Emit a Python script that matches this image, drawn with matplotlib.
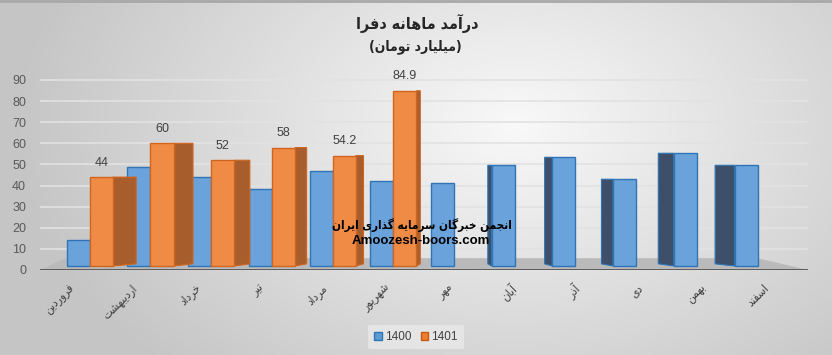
import numpy as np
import matplotlib
matplotlib.use("Agg")
import matplotlib.pyplot as plt
from matplotlib.patches import Polygon, Patch

# ---------------- data ----------------
months = ["فروردین", "اردیبهشت", "خرداد", "تیر", "مرداد", "شهریور",
          "مهر", "آبان", "آذر", "دی", "بهمن", "اسفند"]
series_names = ["1400", "1401"]
vals_1400 = [14.2, 48.6, 44.0, 38.4, 46.8, 42.2, 41.2, 49.6, 53.4, 43.0, 55.3, 49.6]
vals_1401 = [44, 60, 52, 58, 54.2, 84.9]
labels_1401 = ["44", "60", "52", "58", "54.2", "84.9"]
yticks = [0, 10, 20, 30, 40, 50, 60, 70, 80, 90]
title = "درآمد ماهانه دفرا"
subtitle = "(میلیارد تومان)"
watermark_fa = "انجمن خبرگان سرمایه گذاری ایران"
watermark_en = "Amoozesh-boors.com"

# ------------- minimal Arabic/Persian shaping -------------
FORMS = {
    '\u0627': ('\uFE8D', '\uFE8E', None, None),
    '\u0622': ('\uFE81', '\uFE82', None, None),
    '\u0628': ('\uFE8F', '\uFE90', '\uFE91', '\uFE92'),
    '\u062A': ('\uFE95', '\uFE96', '\uFE97', '\uFE98'),
    '\u062C': ('\uFE9D', '\uFE9E', '\uFE9F', '\uFEA0'),
    '\u062E': ('\uFEA5', '\uFEA6', '\uFEA7', '\uFEA8'),
    '\u062F': ('\uFEA9', '\uFEAA', None, None),
    '\u0630': ('\uFEAB', '\uFEAC', None, None),
    '\u0631': ('\uFEAD', '\uFEAE', None, None),
    '\u0633': ('\uFEB1', '\uFEB2', '\uFEB3', '\uFEB4'),
    '\u0634': ('\uFEB5', '\uFEB6', '\uFEB7', '\uFEB8'),
    '\u0641': ('\uFED1', '\uFED2', '\uFED3', '\uFED4'),
    '\u0644': ('\uFEDD', '\uFEDE', '\uFEDF', '\uFEE0'),
    '\u0645': ('\uFEE1', '\uFEE2', '\uFEE3', '\uFEE4'),
    '\u0646': ('\uFEE5', '\uFEE6', '\uFEE7', '\uFEE8'),
    '\u0647': ('\uFEE9', '\uFEEA', '\uFEEB', '\uFEEC'),
    '\u0648': ('\uFEED', '\uFEEE', None, None),
    '\u06CC': ('\uFBFC', '\uFBFD', '\uFBFE', '\uFBFF'),
    '\u06AF': ('\uFB92', '\uFB93', '\uFB94', '\uFB95'),
}


def shape(text):
    out = []
    n = len(text)
    for k, ch in enumerate(text):
        f = FORMS.get(ch)
        if f is None:
            out.append(ch)
            continue
        prev = text[k - 1] if k > 0 else None
        nxt = text[k + 1] if k < n - 1 else None
        jp = prev in FORMS and FORMS[prev][2] is not None
        jn = f[2] is not None and nxt in FORMS
        if jp and jn:
            out.append(f[3])
        elif jp:
            out.append(f[1])
        elif jn:
            out.append(f[2])
        else:
            out.append(f[0])
    mirror = {'(': ')', ')': '('}
    return ''.join(mirror.get(c, c) for c in reversed(out))


plt.rcParams['font.family'] = ['DejaVu Sans']

W, H = 832, 355
fig = plt.figure(figsize=(W / 100, H / 100), dpi=100)

# background gradient
bg = fig.add_axes([0, 0, 1, 1], zorder=-5)
yy, xx = np.mgrid[0:1:200j, 0:1:400j]
d = np.sqrt(((xx - 0.62) / 0.6) ** 2 + ((yy - 0.35) / 0.95) ** 2)
c = 0.975 - 0.2 * np.clip(d, 0, 1)
bg.imshow(np.dstack([c, c, c]), extent=[0, 1, 0, 1], aspect='auto', origin='upper')
bg.set_xlim(0, 1)
bg.set_ylim(0, 1)
bg.axis('off')
bg.plot([0, 1], [0.997, 0.997], color='#a8a8a8', lw=2)

# main axes
px_per_unit = 190 / 90.0
y_top = 95
bottom_frac = (H - 270) / H
top_frac = 1 - (270 - y_top * px_per_unit) / H
ax = fig.add_axes([40 / W, bottom_frac, (808 - 40) / W, top_frac - bottom_frac])
ax.set_facecolor('none')
ax.set_xlim(-0.82, 11.83)
ax.set_ylim(0, y_top)
for s in ax.spines.values():
    s.set_visible(False)

ax.set_yticks(yticks)
ax.set_yticklabels([str(t) for t in yticks], fontfamily='Liberation Sans',
                   fontsize=9, color='#595959')
ax.tick_params(axis='y', length=0, pad=10)
ax.set_xticks([])
for t in yticks[1:]:
    ax.axhline(t, color='#e2e2e2', lw=1.2, zorder=0)

# floor
floor = Polygon([(-0.82, 0), (11.83, 0), (11.0, 5.6), (-0.4, 5.6)],
                closed=True, facecolor='#bababa', edgecolor='none', zorder=1)
ax.add_patch(floor)
ax.axhline(0, color='#404040', lw=1.8, zorder=2)

x = np.arange(len(months))
w = 0.38
base = 1.9
per = 0.064

blue_front = '#6AA3DC'
blue_edge = '#2F75B5'
blue_side = '#3E5069'
orange_front = '#F08B45'
orange_edge = '#D0651F'
orange_side = '#A85E2C'

# blue bars
for i, v in enumerate(vals_1400):
    s = (6 - i) * per
    if s < 0:  # left side face visible
        xl = x[i] - w
        ax.add_patch(Polygon([(xl, base), (xl + s, base + 1.0), (xl + s, v), (xl, v)],
                             closed=True, facecolor=blue_side, edgecolor=blue_edge,
                             lw=0.8, zorder=3))
    elif s > 0:
        xr = x[i]
        ax.add_patch(Polygon([(xr, base), (xr + s, base + 1.0), (xr + s, v), (xr, v)],
                             closed=True, facecolor='#4a7fb5', edgecolor=blue_edge,
                             lw=0.8, zorder=3))
ax.bar(x - w / 2, np.array(vals_1400) - base, bottom=base, width=w,
       color=blue_front, edgecolor=blue_edge, linewidth=1.0, zorder=4)

# orange bars
x2 = x[:len(vals_1401)]
for i, v in enumerate(vals_1401):
    s = (6 - i) * per
    xr = x2[i] + w
    ax.add_patch(Polygon([(xr, base), (xr + s, base + 1.0), (xr + s, v), (xr, v)],
                         closed=True, facecolor=orange_side, edgecolor=orange_edge,
                         lw=0.8, zorder=5))
bars2 = ax.bar(x2 + w / 2, np.array(vals_1401) - base, bottom=base, width=w,
               color=orange_front, edgecolor=orange_edge, linewidth=1.0, zorder=6)
for i, v in enumerate(vals_1401):
    ax.annotate(labels_1401[i], (x2[i] + w / 2, v), xytext=(0, 6),
                textcoords='offset points', ha='center', va='bottom',
                fontsize=9, color='#404040', fontfamily='Liberation Sans', zorder=7)

# category labels
for i, m in enumerate(months):
    ax.text(x[i] + (i - 6) * 0.04 - 0.12, -5.5, shape(m), rotation=45,
            rotation_mode='anchor', ha='right', va='top', fontsize=8.5,
            fontstretch='condensed', color='#404040', clip_on=False)

# titles
fig.text(417 / W, 1 - 23 / H, shape(title), ha='center', va='center',
         fontsize=11.5, fontweight='bold', fontstretch='condensed', color='#262626')
fig.text(415 / W, 1 - 47 / H, shape(subtitle), ha='center', va='center',
         fontsize=10, fontweight='bold', fontstretch='condensed', color='#262626')

# watermark
fig.text(422 / W, 1 - 225 / H, shape(watermark_fa), ha='center', va='center',
         fontsize=8.5, fontweight='bold', fontstretch='condensed', color='black', zorder=10)
fig.text(421 / W, 1 - 241 / H, watermark_en, ha='center', va='center',
         fontsize=9.5, fontweight='bold', color='black',
         fontfamily='Liberation Sans', zorder=10)

# legend
handles = [Patch(facecolor='#5B9BD5', edgecolor='#2E75B6', label=series_names[0]),
           Patch(facecolor='#ED7D31', edgecolor='#C55A11', label=series_names[1])]
leg = fig.legend(handles=handles, loc='center', bbox_to_anchor=(416 / W, 1 - 337 / H),
                 ncol=2, frameon=True, handlelength=0.65, handleheight=0.65,
                 handletextpad=0.25, columnspacing=0.8, borderpad=0.55,
                 prop={'family': 'Liberation Sans', 'size': 8.5})
leg.get_frame().set_facecolor('#e9e9e9')
leg.get_frame().set_edgecolor('none')
leg.get_frame().set_alpha(0.8)
for t in leg.get_texts():
    t.set_color('#404040')

fig.savefig('out.png', dpi=100)
